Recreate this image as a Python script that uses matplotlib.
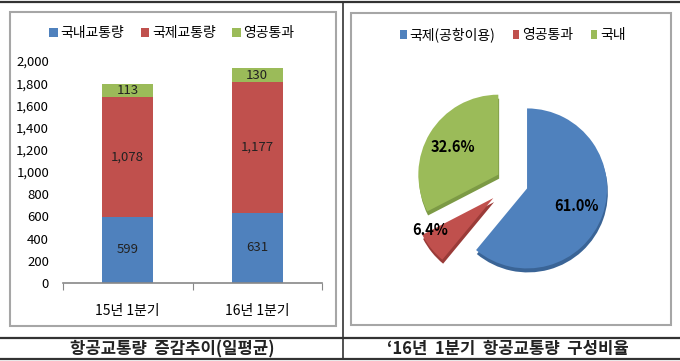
import matplotlib.pyplot as plt
import numpy as np
from matplotlib.patches import Rectangle
from matplotlib.lines import Line2D

plt.rcParams['font.family'] = ['Noto Sans CJK KR', 'DejaVu Sans']

# bar chart data (daily average)
periods = ['15년 1분기', '16년 1분기']
domestic = [599, 631]
international = [1078, 1177]
overflight = [113, 130]
bar_series = ['국내교통량', '국제교통량', '영공통과']

# pie chart data
pie_labels = ['국제(공항이용)', '영공통과', '국내']
pie_shares = [61.0, 6.4, 32.6]

colors = ['#4F81BD', '#C0504D', '#9BBB59']
W, H = 680, 361


def fx(px):
    return px / W


def fy(py):
    return 1 - py / H


fig = plt.figure(figsize=(W / 100, H / 100), dpi=100)

# table lines
for y in (2, 338, 359):
    fig.add_artist(Line2D([0, 1], [fy(y), fy(y)], color='#333333', lw=1.6))
fig.add_artist(Line2D([fx(343), fx(343)], [fy(2), fy(359)], color='#333333', lw=1.2))

# chart frames
for x0, y0, x1, y1 in [(10, 12, 336, 326), (351, 13, 671, 325)]:
    fig.add_artist(Rectangle((fx(x0), fy(y1)), fx(x1 - x0), (y1 - y0) / H,
                             fill=False, ec='#A6A6A6', lw=1.5))

# ---- stacked bars ----
ax = fig.add_axes([fx(63), fy(283), fx(259), 222 / H])
x = np.arange(len(periods))
bottom = np.zeros(len(periods))
bars = []
for vals, c, name in zip([domestic, international, overflight], colors, bar_series):
    b = ax.bar(x, vals, 0.39, bottom=bottom, color=c, label=name)
    ax.bar_label(b, labels=[f'{v:,}' for v in vals], label_type='center',
                 fontsize=9.5, color='#222222')
    bottom += np.array(vals)
    bars.append(b)

ax.set_xlim(-0.5, 1.5)
ax.set_ylim(0, 2000)
ax.set_yticks(range(0, 2001, 200))
ax.set_yticklabels([f'{v:,}' for v in range(0, 2001, 200)])
ax.set_xticks([-0.5, 0.5, 1.5])
ax.set_xticklabels([])
ax.set_xticks(x, minor=True)
ax.set_xticklabels(periods, minor=True)
ax.tick_params(axis='x', which='major', length=5, color='#888888', direction='out')
ax.tick_params(axis='x', which='minor', length=0, pad=15, labelsize=10)
ax.tick_params(axis='y', length=0, pad=10, labelsize=9.5)
for s in ['top', 'right', 'left']:
    ax.spines[s].set_visible(False)
ax.spines['bottom'].set_color('#888888')
ax.spines['bottom'].set_linewidth(1.2)

fig.legend(handles=bars, labels=bar_series, loc='center', bbox_to_anchor=(fx(172), fy(33)),
           ncol=3, frameon=False, fontsize=10, handlelength=0.6, handleheight=0.6,
           handletextpad=0.2, columnspacing=1.2)

fig.text(fx(172), fy(349), '항공교통량  증감추이(일평균)', ha='center', va='center',
         fontsize=12, fontweight='bold', color='#222222')

# ---- pie ----
pax = fig.add_axes([fx(392), fy(303), fx(240), 240 / H])
explode = [0.2, 0.3, 0.2]
dark = ['#3A6496', '#9A3B38', '#7C9A45']
pax.pie(pie_shares, colors=dark, startangle=90, counterclock=False,
        explode=explode, center=(0.01, -0.05))
wedges, _, pcts = pax.pie(pie_shares, colors=colors, startangle=90, counterclock=False,
                          explode=explode, autopct='%.1f%%', pctdistance=0.66,
                          textprops=dict(fontsize=10.5, fontweight='bold', color='black'))
# small slice label sits outside, a little above the wedge axis
w = wedges[1]
ang = np.deg2rad((w.theta1 + w.theta2) / 2 - 9)
pcts[1].set_position((1.18 * np.cos(ang), 1.18 * np.sin(ang)))
pax.set_xlim(-1.5, 1.5)
pax.set_ylim(-1.5, 1.5)

fig.legend(handles=wedges, labels=pie_labels, loc='center', bbox_to_anchor=(fx(513), fy(35)),
           ncol=3, frameon=False, fontsize=10, handlelength=0.45, handleheight=0.7,
           handletextpad=0.2, columnspacing=1.3)

fig.text(fx(508), fy(349), '‘16년  1분기  항공교통량  구성비율', ha='center', va='center',
         fontsize=12, fontweight='bold', color='#222222')

fig.savefig('out.png', dpi=100)
